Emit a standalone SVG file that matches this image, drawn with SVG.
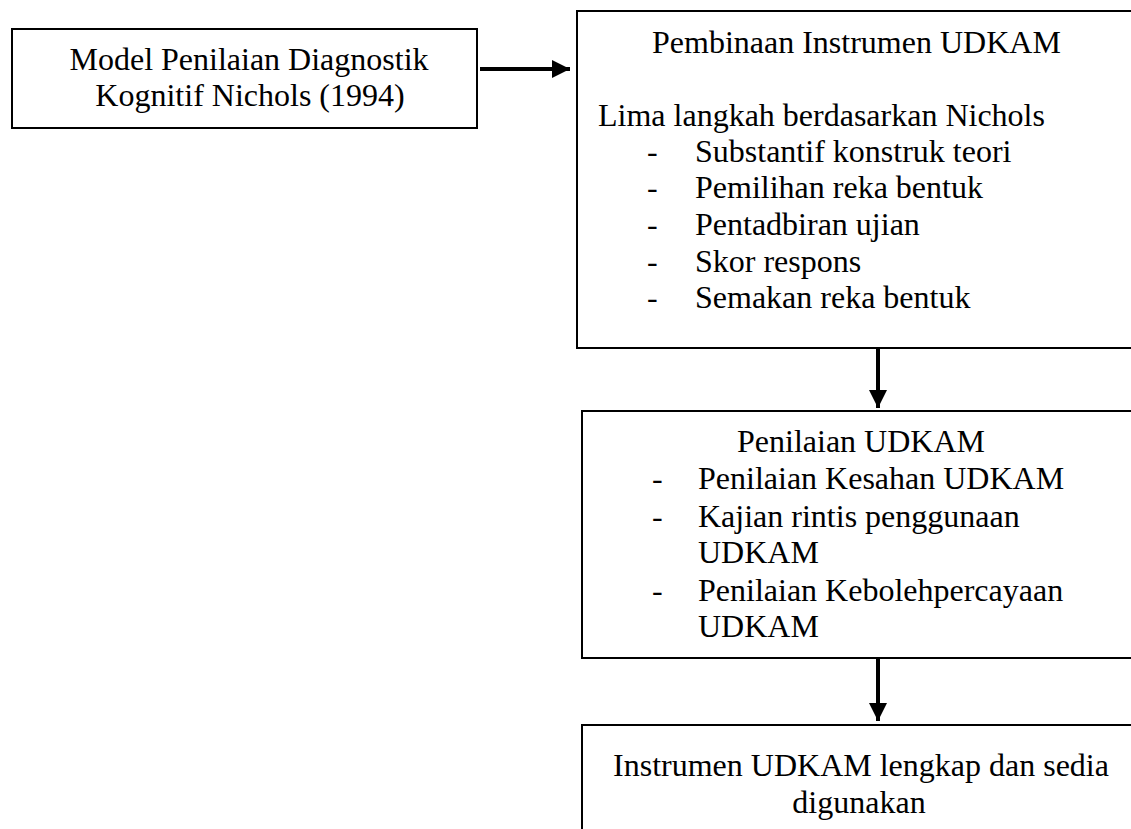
<svg xmlns="http://www.w3.org/2000/svg" width="1131" height="829" viewBox="0 0 1131 829">
<defs>
<style>
.box{fill:#fff;stroke:#000;stroke-width:2}
.t{font-family:"Liberation Serif","Times New Roman",serif;font-size:32px;fill:#000}
.m{text-anchor:middle}
.conn{stroke:#000;stroke-width:4;fill:none}
</style>
<marker id="ah" viewBox="0 0 10 10" refX="10" refY="5" markerWidth="4.5" markerHeight="4.5" markerUnits="strokeWidth" orient="auto">
<path d="M0,0 L10,5 L0,10 Z" fill="#000"/>
</marker>
</defs>
<rect width="1131" height="829" fill="#fff"/>
<g id="n1">
<rect class="box" x="12" y="29" width="465" height="99"/>
<text class="t m" x="249" y="70">Model Penilaian Diagnostik</text>
<text class="t m" x="250" y="106">Kognitif Nichols (1994)</text>
</g>
<g id="n2">
<rect class="box" x="577" y="11" width="570" height="337"/>
<text class="t" x="652" y="53">Pembinaan Instrumen UDKAM</text>
<text class="t" x="598" y="126">Lima langkah berdasarkan Nichols</text>
<text class="t" x="647" y="162">-</text><text class="t" x="695" y="162">Substantif konstruk teori</text>
<text class="t" x="647" y="198">-</text><text class="t" x="695" y="198">Pemilihan reka bentuk</text>
<text class="t" x="647" y="235">-</text><text class="t" x="695" y="235">Pentadbiran ujian</text>
<text class="t" x="647" y="272">-</text><text class="t" x="695" y="272">Skor respons</text>
<text class="t" x="647" y="308">-</text><text class="t" x="695" y="308">Semakan reka bentuk</text>
</g>
<g id="n3">
<rect class="box" x="582" y="411" width="570" height="247"/>
<text class="t" x="737" y="452">Penilaian UDKAM</text>
<text class="t" x="652" y="489">-</text><text class="t" x="698" y="489">Penilaian Kesahan UDKAM</text>
<text class="t" x="652" y="527">-</text><text class="t" x="698" y="527">Kajian rintis penggunaan</text>
<text class="t" x="698" y="563">UDKAM</text>
<text class="t" x="652" y="601">-</text><text class="t" x="698" y="601">Penilaian Kebolehpercayaan</text>
<text class="t" x="698" y="637">UDKAM</text>
</g>
<g id="n4">
<rect class="box" x="582" y="725" width="570" height="120"/>
<text class="t m" x="861" y="776">Instrumen UDKAM lengkap dan sedia</text>
<text class="t m" x="859" y="813">digunakan</text>
</g>
<g id="connectors">
<line class="conn" x1="480" y1="69" x2="570" y2="69" marker-end="url(#ah)"/>
<line class="conn" x1="878" y1="348" x2="878" y2="408" marker-end="url(#ah)"/>
<line class="conn" x1="878" y1="658" x2="878" y2="721" marker-end="url(#ah)"/>
</g>
</svg>
